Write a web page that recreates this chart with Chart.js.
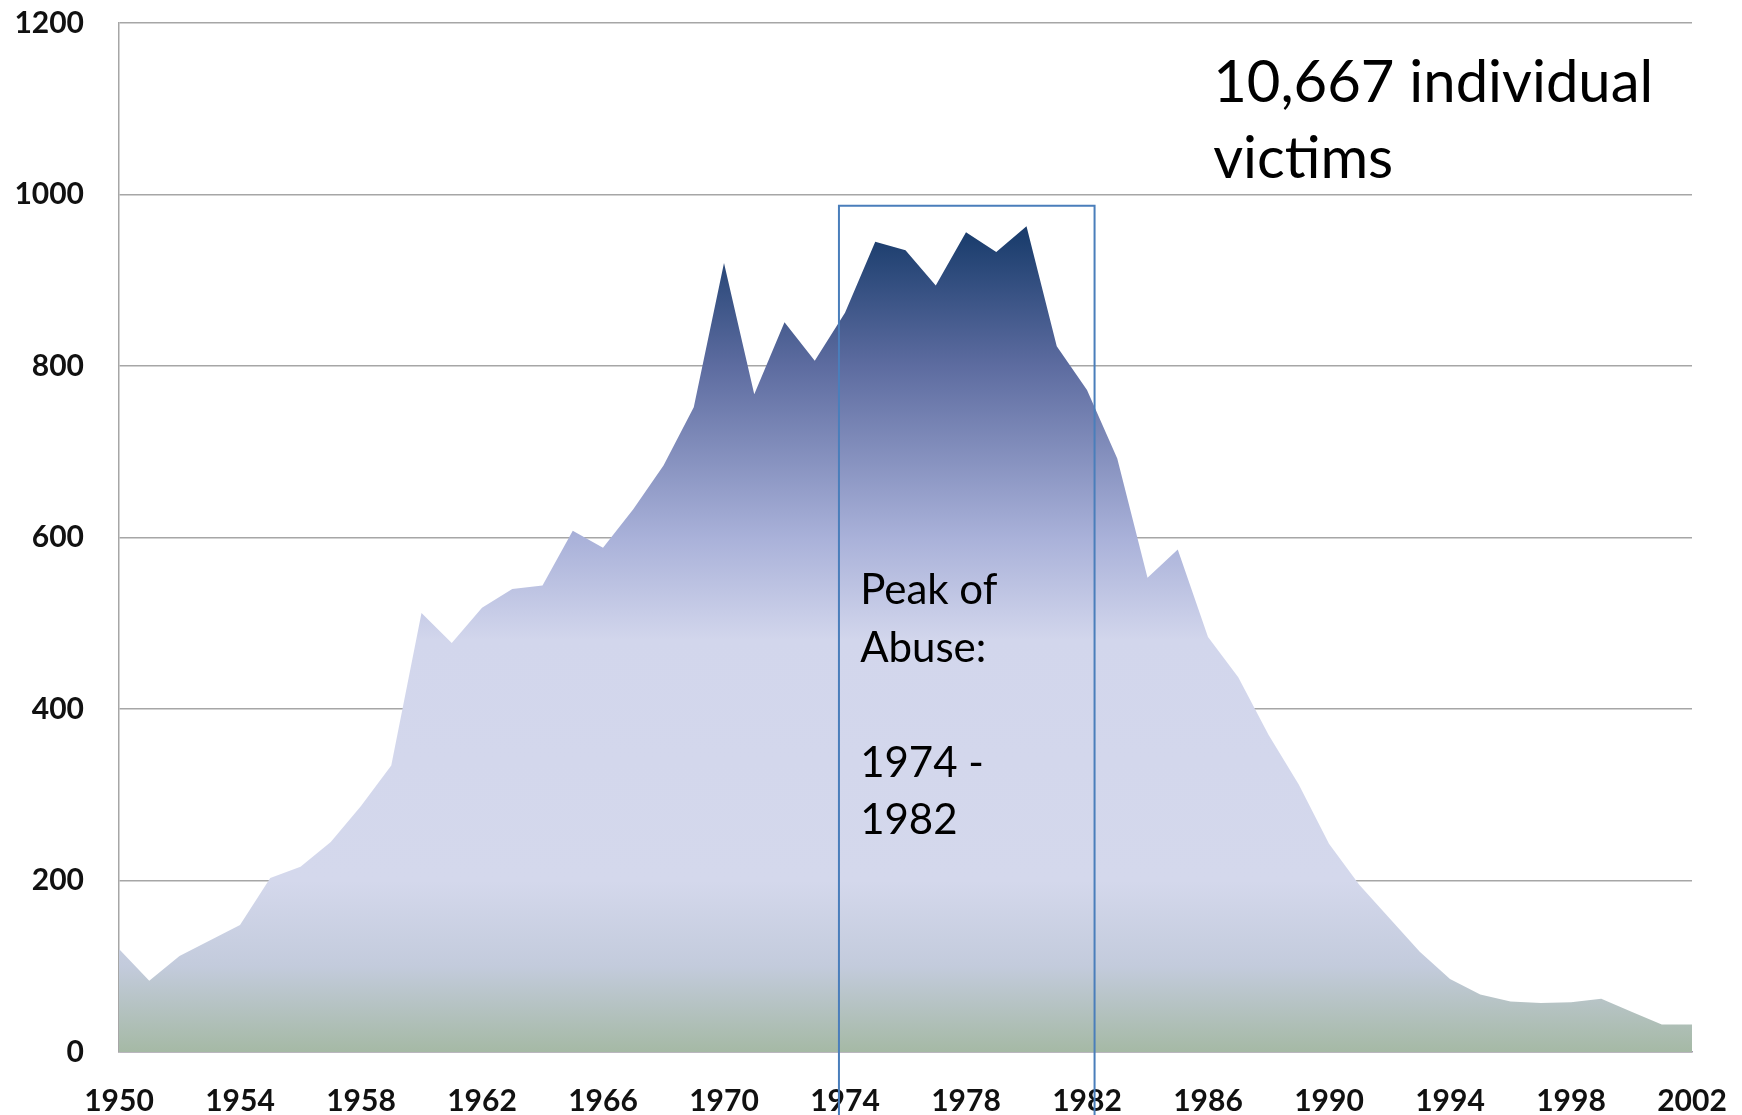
<!DOCTYPE html>
<html lang="en">
<head>
  <meta charset="UTF-8" />
  <title>Victims by year of abuse</title>
  <script src="https://cdn.jsdelivr.net/npm/chart.js"></script>
  <style>
    html, body { margin: 0; padding: 0; background: #fff; }
    #wrap { width: 1742px; height: 1115px; position: relative; }
  </style>
</head>
<body>
  <div id="wrap"><canvas id="victimsChart"></canvas></div>

  <script>
    const years = [
      1950, 1951, 1952, 1953, 1954, 1955, 1956, 1957, 1958, 1959,
      1960, 1961, 1962, 1963, 1964, 1965, 1966, 1967, 1968, 1969,
      1970, 1971, 1972, 1973, 1974, 1975, 1976, 1977, 1978, 1979,
      1980, 1981, 1982, 1983, 1984, 1985, 1986, 1987, 1988, 1989,
      1990, 1991, 1992, 1993, 1994, 1995, 1996, 1997, 1998, 1999,
      2000, 2001, 2002
    ];
    const victims = [
      120, 83, 112, 130, 148, 203, 216, 245, 287, 334,
      512, 477, 518, 540, 544, 608, 588, 633, 684, 752,
      920, 767, 851, 806, 862, 945, 935, 894, 956, 933,
      963, 823, 772, 692, 553, 586, 484, 437, 370, 312,
      243, 195, 156, 117, 85, 67, 59, 57, 58, 62,
      47, 32, 32
    ];
    const xTickYears = [1950, 1954, 1958, 1962, 1966, 1970, 1974, 1978, 1982, 1986, 1990, 1994, 1998, 2002];
    const yTicks = [0, 200, 400, 600, 800, 1000, 1200];

    // peak-of-abuse box (x in years, top in victims) and the two notes
    const peakYears = [1973.8, 1982.25];
    const peakBoxTop = 987;
    const peakNote = ['Peak of', 'Abuse:', '', '1974 -', '1982'];
    const peakNoteAt = [1974.5, 522];
    const totalNote = ['10,667 individual', 'victims'];
    const totalNoteAt = [1986.17, 1108];

    function areaFill(context) {
      const chart = context.chart;
      if (!chart.chartArea) return '#d4d8ec';
      const y = chart.scales.y;
      const g = chart.ctx.createLinearGradient(0, y.getPixelForValue(1000), 0, y.getPixelForValue(0));
      g.addColorStop(0.0, '#173766');
      g.addColorStop(0.05, '#1c3e6e');
      g.addColorStop(0.2, '#5d6ca0');
      g.addColorStop(0.4, '#a9b1d9');
      g.addColorStop(0.52, '#d2d6ec');
      g.addColorStop(0.8, '#d4d8ec');
      g.addColorStop(0.9, '#c3cbdc');
      g.addColorStop(1.0, '#a5b9a5');
      return g;
    }

    const notes = {
      id: 'notes',
      afterDraw(chart) {
        const { ctx, scales: { x, y } } = chart;
        const left = x.getPixelForValue(peakYears[0]);
        const right = x.getPixelForValue(peakYears[1]);
        const top = y.getPixelForValue(peakBoxTop);

        ctx.save();
        ctx.strokeStyle = '#4a7ebb';
        ctx.lineWidth = 2;
        ctx.beginPath();
        ctx.moveTo(left, chart.height + 2);
        ctx.lineTo(left, top);
        ctx.lineTo(right, top);
        ctx.lineTo(right, chart.height + 2);
        ctx.stroke();

        ctx.fillStyle = '#000';
        ctx.textAlign = 'left';
        ctx.textBaseline = 'alphabetic';

        ctx.font = '42px Lato';
        const px = x.getPixelForValue(peakNoteAt[0]);
        const py = y.getPixelForValue(peakNoteAt[1]);
        peakNote.forEach((line, i) => ctx.fillText(line, px, py + i * 57.5));

        ctx.font = '58px Lato';
        const tx = x.getPixelForValue(totalNoteAt[0]);
        const ty = y.getPixelForValue(totalNoteAt[1]);
        totalNote.forEach((line, i) => ctx.fillText(line, tx, ty + i * 76));
        ctx.restore();
      }
    };

    const tickFont = { family: 'Lato', size: 30, weight: 'bold' };

    new Chart(document.getElementById('victimsChart'), {
      type: 'line',
      data: {
        datasets: [{
          data: years.map((yr, i) => ({ x: yr, y: victims[i] })),
          fill: 'origin',
          backgroundColor: areaFill,
          borderWidth: 0,
          pointRadius: 0,
          tension: 0
        }]
      },
      options: {
        responsive: true,
        maintainAspectRatio: false,
        animation: false,
        events: [],
        layout: { padding: { top: 23, right: 50, left: 0, bottom: 0 } },
        plugins: {
          legend: { display: false },
          tooltip: { enabled: false }
        },
        scales: {
          x: {
            type: 'linear',
            min: 1950,
            max: 2002,
            afterBuildTicks: s => { s.ticks = xTickYears.map(v => ({ value: v })); },
            afterFit: s => { s.height = 63; s.paddingLeft = 0; s.paddingRight = 0; },
            ticks: {
              font: tickFont,
              color: '#111',
              padding: 31,
              maxRotation: 0,
              autoSkip: false,
              callback: v => String(v)
            },
            grid: { display: false, drawTicks: false },
            border: { display: true, color: '#a39cab', width: 1.5 }
          },
          y: {
            min: 0,
            max: 1200,
            afterBuildTicks: s => { s.ticks = yTicks.map(v => ({ value: v })); },
            afterFit: s => { s.width = 119; s.paddingTop = 0; s.paddingBottom = 0; },
            ticks: {
              font: tickFont,
              color: '#111',
              padding: 35,
              callback: v => String(v)
            },
            grid: { color: '#a6a6a6', lineWidth: 1.5, drawTicks: false },
            border: { display: true, color: '#a6a6a6', width: 1.5 }
          }
        }
      },
      plugins: [notes]
    });
  </script>
</body>
</html>
